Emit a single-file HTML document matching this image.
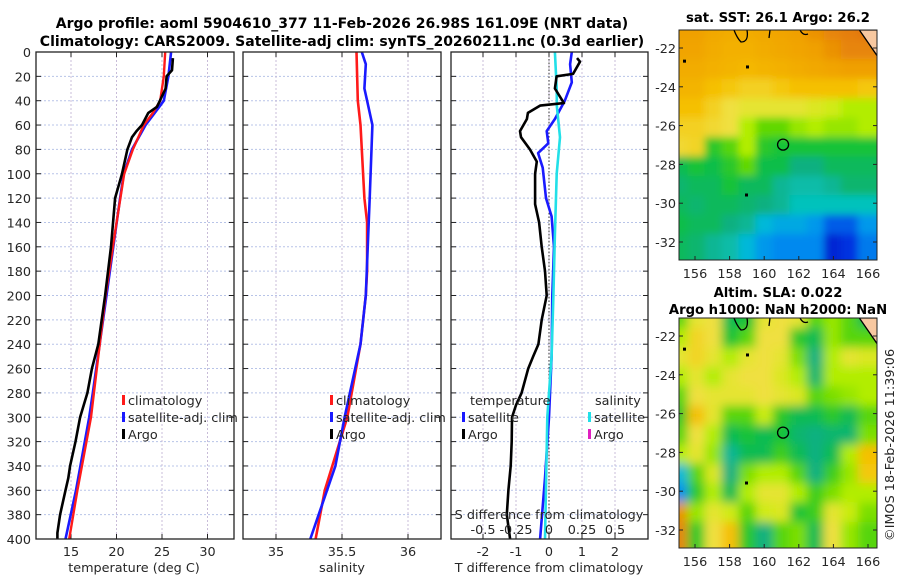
<!DOCTYPE html>
<html><head><meta charset="utf-8"><style>
html,body{margin:0;padding:0;background:#fff;}
svg{display:block;font-family:"DejaVu Sans","Liberation Sans",sans-serif;}
.tk{font-size:12.8px;fill:#262626;}
.tt{font-size:14px;font-weight:bold;fill:#000;}
.tm{font-size:13.2px;font-weight:bold;fill:#000;}
</style></head><body>
<svg id="fig" width="900" height="580" viewBox="0 0 900 580">
<defs>
<clipPath id="c1"><rect x="679" y="30" width="198" height="230"/></clipPath>
<clipPath id="c2"><rect x="679" y="318" width="198" height="230"/></clipPath>
<filter id="bl" x="-5%" y="-5%" width="110%" height="110%"><feGaussianBlur stdDeviation="5"/></filter>
<filter id="bl2" x="-5%" y="-5%" width="110%" height="110%"><feGaussianBlur stdDeviation="4"/></filter>
</defs>
<text class="tt" x="342" y="28" text-anchor="middle">Argo profile: aoml 5904610_377 11-Feb-2026 26.98S 161.09E (NRT data)</text>
<text class="tt" x="342" y="46" text-anchor="middle">Climatology: CARS2009. Satellite-adj clim: synTS_20260211.nc (0.3d earlier)</text>
<g id="g"></g>
</svg>
<script>
// ---------- data ----------
const depthTicks=[0,20,40,60,80,100,120,140,160,180,200,220,240,260,280,300,320,340,360,380,400];
const tTicks=[15,20,25,30];
const sTicks=[35,35.5,36];
const dTTicks=[-2,-1,0,1,2];
const dSTicks=[-0.5,-0.25,0,0.25,0.5];
const dSTickLabels=["-0.5","-0.25","0","0.25","0.5"];
const climTDepth=[0,20,40,50,60,80,100,150,200,250,300,360,400];
const climT=[25.35,25.2,24.8,24.0,23.0,21.8,20.85,19.8,18.8,18.0,17.2,15.7,14.8];
const satTDepth=[0,20,40,45,60,80,100,120,200,280,300,360,400];
const satT=[26.0,25.7,25.2,24.7,23.2,21.7,20.8,20.4,18.9,17.4,17.0,15.55,14.4];
const argoTDepth=[5,15,20,30,45,50,60,65,70,80,100,120,160,200,240,260,280,300,320,340,350,360,380,395,400];
const argoT=[26.2,26.1,25.5,25.4,24.45,23.5,22.8,22.2,21.7,21.2,20.6,19.85,19.4,18.75,18.0,17.3,16.8,16.0,15.5,14.9,14.7,14.4,13.8,13.5,13.5];
const climSDepth=[0,40,60,100,120,140,180,200,240,300,360,400];
const climS=[35.61,35.62,35.64,35.66,35.67,35.69,35.69,35.68,35.64,35.54,35.37,35.30];
const satSDepth=[0,10,30,40,60,120,200,240,280,300,340,400];
const satS=[35.65,35.68,35.67,35.69,35.73,35.71,35.68,35.64,35.56,35.52,35.45,35.26];
const argoDTDepth=[5,8,18,20,30,42,44,50,55,65,70,80,90,100,125,140,160,180,200,220,240,250,260,280,290,300,320,340,360,380,400];
const argoDT=[0.85,0.94,0.73,0.23,0.18,0.45,-0.27,-0.64,-0.67,-0.88,-0.85,-0.58,-0.37,-0.42,-0.42,-0.3,-0.22,-0.12,-0.07,-0.22,-0.32,-0.48,-0.63,-0.83,-1.0,-1.12,-1.13,-1.16,-1.23,-1.28,-1.18];
const satDTDepth=[0,10,25,40,55,65,75,83,95,120,135,160,200,250,300,350,400];
const satDT=[0.69,0.64,0.69,0.48,0.18,-0.07,-0.02,-0.33,-0.19,-0.09,0.08,0.15,0.1,0.08,0.0,-0.12,-0.27];
const satDSDepth=[0,30,45,70,100,150,200,250,300,400];
const satDS=[0.045,0.058,0.06,0.083,0.058,0.045,0.033,0.02,-0.013,-0.03];
const lonTicks=[156,158,160,162,164,166];
const latTicks=[-22,-24,-26,-28,-30,-32];
const sstGrid=[
[.88,.88,.86,.85,.85,.86,.87,.88,.90,.92,.93,.94],
[.87,.87,.85,.84,.84,.85,.86,.87,.88,.90,.92,.92],
[.85,.85,.84,.83,.82,.83,.84,.85,.86,.87,.88,.88],
[.83,.83,.80,.78,.76,.76,.78,.80,.80,.80,.80,.78],
[.80,.80,.76,.72,.70,.70,.70,.70,.68,.66,.62,.62],
[.76,.76,.74,.72,.62,.56,.56,.60,.62,.60,.60,.62],
[.74,.75,.50,.55,.62,.50,.48,.48,.48,.48,.48,.48],
[.45,.48,.46,.50,.56,.46,.46,.40,.40,.44,.44,.44],
[.42,.44,.44,.48,.44,.44,.38,.36,.36,.38,.42,.42],
[.44,.42,.44,.44,.42,.40,.38,.34,.34,.34,.34,.34],
[.46,.44,.44,.40,.38,.30,.28,.28,.26,.18,.18,.26],
[.44,.42,.38,.36,.30,.26,.24,.24,.24,.10,.12,.22]];
const slaGrid=[
[.55,.70,.72,.45,.48,.70,.72,.70,.55,.60,.55,.45],
[.62,.75,.72,.48,.55,.72,.72,.50,.45,.60,.55,.55],
[.70,.75,.70,.62,.70,.72,.70,.58,.40,.62,.70,.68],
[.62,.70,.62,.70,.72,.72,.68,.62,.42,.62,.62,.62],
[.55,.72,.70,.70,.70,.72,.70,.68,.55,.58,.60,.62],
[.50,.80,.70,.55,.55,.65,.50,.45,.45,.50,.45,.55],
[.55,.72,.62,.45,.48,.45,.48,.42,.40,.42,.42,.58],
[.62,.70,.60,.38,.45,.45,.52,.45,.40,.45,.62,.80],
[.30,.55,.68,.40,.58,.62,.62,.55,.40,.52,.60,.78],
[.25,.50,.62,.45,.62,.70,.70,.62,.52,.58,.62,.62],
[.90,.60,.70,.66,.55,.66,.68,.48,.52,.70,.65,.58],
[.92,.50,.72,.80,.50,.40,.55,.58,.45,.72,.60,.55]];
const argoLon=161.09, argoLat=-26.98;

// ---------- helpers ----------
const NS="http://www.w3.org/2000/svg";
const G=document.getElementById('g');
function mk(t,a,p){const e=document.createElementNS(NS,t);for(const k in a)e.setAttribute(k,a[k]);(p||G).appendChild(e);return e;}
function lin(d0,d1,r0,r1){return v=>r0+(v-d0)*(r1-r0)/(d1-d0);}
const Y=lin(0,400,52,539);
const P=[{x0:36,x1:234},{x0:243,x1:441},{x0:451,x1:648}];
const X1=lin(15,30,71,207.5), X2=lin(35,36,276,408), X3=lin(0,1,549,582), X3s=lin(0,0.25,549,582);

function frame(p,name,xTicks,xf){
  const bg=mk('rect',{x:p.x0,y:52,width:p.x1-p.x0,height:487,fill:'#fff'});
  
  
  depthTicks.forEach(d=>{if(d>0&&d<400){const l=mk('line',{x1:p.x0,x2:p.x1,y1:Y(d),y2:Y(d),stroke:'#b8c4e8','stroke-width':1,'stroke-dasharray':'2,2'});
    
    
    mk('line',{x1:p.x0,x2:p.x0+5,y1:Y(d),y2:Y(d),stroke:'#222'});mk('line',{x1:p.x1-5,x2:p.x1,y1:Y(d),y2:Y(d),stroke:'#222'});}});
  xTicks.forEach(v=>{const x=xf(v);const l=mk('line',{x1:x,x2:x,y1:52,y2:539,stroke:'#c8bcd8','stroke-width':1,'stroke-dasharray':'2,2'});
    
    
    mk('line',{x1:x,x2:x,y1:539,y2:534,stroke:'#222'});mk('line',{x1:x,x2:x,y1:52,y2:57,stroke:'#222'});});
}
function border(p){mk('rect',{x:p.x0,y:52,width:p.x1-p.x0,height:487,fill:'none',stroke:'#222','stroke-width':1.3});}
function line(ds,vs,xf,col,name,w){
  const pts=ds.map((d,i)=>xf(vs[i]).toFixed(1)+','+Y(d).toFixed(1)).join(' ');
  const e=mk('polyline',{points:pts,fill:'none',stroke:col,'stroke-width':w||2.6,'stroke-linejoin':'round'});
  
  
}
function txt(x,y,s,cls,anchor,name,extra){const e=mk('text',Object.assign({x:x,y:y,class:cls||'tk','text-anchor':anchor||'start'},extra||{}));e.textContent=s;
  
  return e;}
function legItem(x,y,col,s,name){
  const m=mk('rect',{x:x,y:y-10,width:3,height:10,fill:col});
  
  
  txt(x+6,y,s,'tk','start',name);
}

// panel 1
frame(P[0],'temperature-panel',tTicks,X1);
line(satTDepth,satT,X1,'#1a1aff','temp-satellite-adj-clim-line');
line(climTDepth,climT,X1,'#ff1a1a','temp-climatology-line',2.4);
line(argoTDepth,argoT,X1,'#000','temp-argo-line');
border(P[0]);
depthTicks.forEach(d=>txt(31,Y(d)+5,String(d),'tk','end','depth-tick-label'));
tTicks.forEach(v=>txt(X1(v),556,String(v),'tk','middle','temp-x-tick-label'));
txt(134,572,'temperature (deg C)','tk','middle','temp-x-axis-title');
legItem(122,405,'#ff1a1a','climatology','legend-climatology');
legItem(122,422,'#1a1aff','satellite-adj. clim','legend-satellite-adj-clim');
legItem(122,439,'#000','Argo','legend-argo');

// panel 2
frame(P[1],'salinity-panel',sTicks,X2);
line(climSDepth,climS,X2,'#ff1a1a','sal-climatology-line');
line(satSDepth,satS,X2,'#1a1aff','sal-satellite-adj-clim-line');
border(P[1]);
sTicks.forEach(v=>txt(X2(v),556,String(v),'tk','middle','sal-x-tick-label'));
txt(342,572,'salinity','tk','middle','sal-x-axis-title');
legItem(330,405,'#ff1a1a','climatology','legend2-climatology');
legItem(330,422,'#1a1aff','satellite-adj. clim','legend2-satellite-adj-clim');
legItem(330,439,'#000','Argo','legend2-argo');

// panel 3
frame(P[2],'difference-panel',dTTicks,X3);
const zl=mk('line',{x1:X3(0),x2:X3(0),y1:52,y2:539,stroke:'#333','stroke-width':1,'stroke-dasharray':'1.5,2'});


line(satDTDepth,satDT,X3,'#1a1aff','tdiff-satellite-line');
line(satDSDepth,satDS,X3s,'#22e0e8','sdiff-satellite-line');
line(argoDTDepth,argoDT,X3,'#000','tdiff-argo-line');
border(P[2]);
dTTicks.forEach(v=>txt(X3(v),556,String(v),'tk','middle','tdiff-x-tick-label'));
txt(549,572,'T difference from climatology','tk','middle','tdiff-x-axis-title');
dSTicks.forEach((v,i)=>txt(X3s(v),534,dSTickLabels[i],'tk','middle','sdiff-tick-label'));
txt(549,519,'S difference from climatology','tk','middle','sdiff-axis-title');
txt(470,405,'temperature','tk','start','legend3-temperature-heading');
txt(595,405,'salinity','tk','start','legend3-salinity-heading');
legItem(462,422,'#1a1aff','satellite','legend3-temp-satellite');
legItem(462,439,'#000','Argo','legend3-temp-argo');
legItem(588,422,'#22e0e8','satellite','legend3-sal-satellite');
legItem(588,439,'#e020c0','Argo','legend3-sal-argo');

// maps
const stops=[[0,[0,0,144]],[.12,[0,48,224]],[.25,[0,144,240]],[.32,[0,200,208]],[.4,[16,176,128]],[.47,[16,192,64]],[.56,[96,216,0]],[.63,[192,240,0]],[.72,[240,224,64]],[.8,[245,192,0]],[.88,[240,160,0]],[.95,[224,112,16]],[1,[192,64,16]]];
function cmap(v){for(let i=1;i<stops.length;i++){if(v<=stops[i][0]){const a=stops[i-1],b=stops[i],t=(v-a[0])/(b[0]-a[0]);return 'rgb('+a[1].map((c,k)=>Math.round(c+(b[1][k]-c)*t)).join(',')+')';}}return 'rgb(192,64,16)';}
function drawMap(grid,top,clip,name,blur){
  const MX=lin(156,166,695,868), MY=lin(-22,-32,top+18,top+212);
  const holder=mk('g',{'clip-path':'url(#'+clip+')'});
  
  
  const inner=mk('g',{filter:'url(#'+blur+')'},holder);
  const lon0=155.05, dl=(166.85-155.05)/12;
  grid.forEach((row,r)=>row.forEach((v,c)=>{
    const x=MX(lon0+c*dl), y=MY(-21-r);
    const cell=mk('rect',{x:(x-8).toFixed(1),y:(y-8).toFixed(1),width:(MX(lon0+(c+1)*dl)-x+16).toFixed(1),height:(MY(-22-r)-y+16).toFixed(1),fill:cmap(v)},inner);
    
    
  }));
  const land=mk('path',{d:'M'+(MX(165.5))+','+top+' L878,'+top+' L878,'+(top+27)+' Z',fill:'#f8c8a0',stroke:'#000','stroke-width':1.3},holder);
  
  
  mk('path',{d:'M734,'+top+' q3,8 7,12 q8,0 6,-12',fill:'none',stroke:'#000','stroke-width':1.3},holder);
  mk('path',{d:'M770,'+top+' l-1,8 M800,'+top+' q3,6 8,4',fill:'none',stroke:'#000','stroke-width':1.3},holder);
  [[683,MY(-22.6)],[745,MY(-29.5)],[746,MY(-22.9)]].forEach(p=>mk('rect',{x:p[0],y:p[1],width:3,height:3,fill:'#000'},holder));
  mk('rect',{x:679,y:top,width:198,height:230,fill:'none',stroke:'#222','stroke-width':1});
  const ci=mk('circle',{cx:MX(argoLon),cy:MY(argoLat),r:5.5,fill:'none',stroke:'#000','stroke-width':1.3});
  
  
  latTicks.forEach(v=>{txt(676,MY(v)+5,String(v),'tk','end',name+'-lat-tick-label');
    mk('line',{x1:679,x2:683,y1:MY(v),y2:MY(v),stroke:'#222'});mk('line',{x1:873,x2:877,y1:MY(v),y2:MY(v),stroke:'#222'});});
  lonTicks.forEach(v=>{txt(MX(v),top+248,String(v),'tk','middle',name+'-lon-tick-label');
    mk('line',{x1:MX(v),x2:MX(v),y1:top+230,y2:top+226,stroke:'#222'});});
}
drawMap(sstGrid,30,'c1','sst-map','bl2');
drawMap(slaGrid,318,'c2','sla-map','bl');
txt(778,22,'sat. SST: 26.1 Argo: 26.2','tm','middle','sst-map-title');
txt(778,297,'Altim. SLA: 0.022','tm','middle','sla-map-title-1');
txt(778,314,'Argo h1000: NaN h2000: NaN','tm','middle','sla-map-title-2');
txt(0,0,'©IMOS 18-Feb-2026 11:39:06','tk','middle','copyright-timestamp',{transform:'translate(894,445) rotate(-90)'});
</script>
</body></html>
